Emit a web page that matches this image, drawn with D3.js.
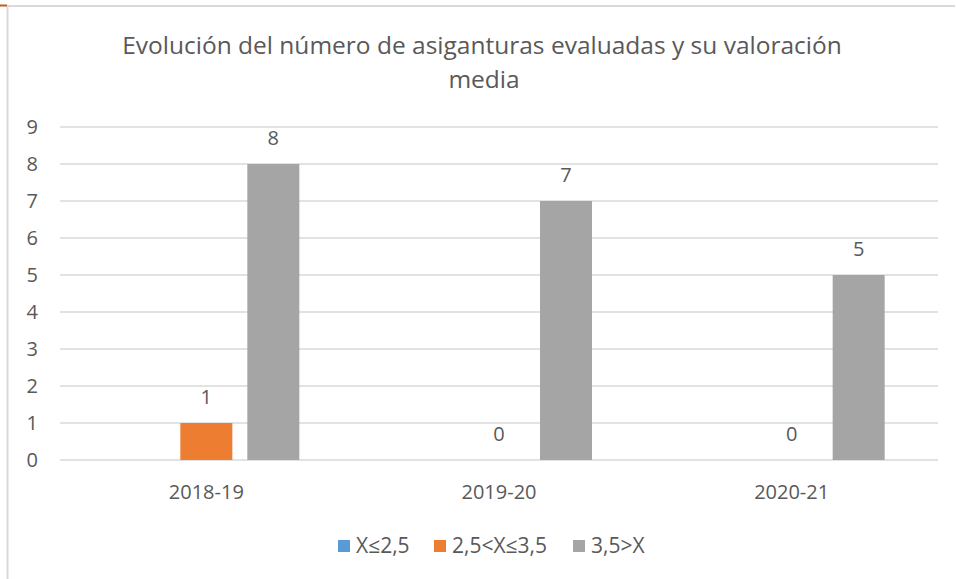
<!DOCTYPE html>
<html>
<head>
<meta charset="utf-8">
<script src="https://cdn.jsdelivr.net/npm/d3@7"></script>
<style>
  body { margin: 0; background: #fff; }
  text { font-family: "Open Sans", "Noto Sans", sans-serif; fill: #595959; }
</style>
</head>
<body>
<script>
var years = ["2018-19", "2019-20", "2020-21"];
var seriesNames = ["X≤2,5", "2,5<X≤3,5", "3,5>X"];
var seriesColors = ["#5b9bd5", "#ed7d31", "#a5a5a5"];
var low = [null, null, null];        // X≤2,5 (no labels shown)
var mid = [1, 0, 0];                 // 2,5<X≤3,5
var high = [8, 7, 5];                // 3,5>X
var yTicks = [0, 1, 2, 3, 4, 5, 6, 7, 8, 9];

var width = 956, height = 579;
var margin = { top: 127, right: 18, bottom: 119, left: 60 };

var svg = d3.select("body").append("svg")
  .attr("width", width)
  .attr("height", height);

// frame
svg.append("line").attr("x1", 7.5).attr("x2", 7.5).attr("y1", 6).attr("y2", height)
  .attr("stroke", "#d9d9d9").attr("stroke-width", 2);
svg.append("line").attr("x1", 7).attr("x2", 955).attr("y1", 6).attr("y2", 6)
  .attr("stroke", "#d9d9d9").attr("stroke-width", 2);
svg.append("line").attr("x1", 0).attr("x2", 7).attr("y1", 5.5).attr("y2", 5.5)
  .attr("stroke", "#c55a11").attr("stroke-width", 2);

// title
svg.append("text").attr("x", 482).attr("y", 54).attr("text-anchor", "middle")
  .style("font-size", "24.5px")
  .text("Evolución del número de asiganturas evaluadas y su valoración");
svg.append("text").attr("x", 484).attr("y", 88).attr("text-anchor", "middle")
  .style("font-size", "24.5px")
  .text("media");

var x = d3.scaleBand()
  .domain(years)
  .range([margin.left, width - margin.right]);

var y = d3.scaleLinear()
  .domain([0, 9])
  .range([height - margin.bottom, margin.top]);

// gridlines
svg.append("g").selectAll("line")
  .data(yTicks)
  .enter().append("line")
  .attr("x1", margin.left).attr("x2", width - margin.right)
  .attr("y1", function(d) { return y(d); })
  .attr("y2", function(d) { return y(d); })
  .attr("stroke", "#d9d9d9").attr("stroke-width", 1.5);

// y tick labels
svg.append("g").selectAll("text")
  .data(yTicks)
  .enter().append("text")
  .attr("x", 38).attr("y", function(d) { return y(d); })
  .attr("dy", "0.35em").attr("text-anchor", "end")
  .style("font-size", "20px")
  .text(function(d) { return d; });

// x labels
svg.append("g").selectAll("text")
  .data(years)
  .enter().append("text")
  .attr("x", function(d) { return x(d) + x.bandwidth() / 2; })
  .attr("y", 499)
  .attr("text-anchor", "middle")
  .style("font-size", "20px")
  .text(function(d) { return d; });

var series = [low, mid, high];
var barW = 52, gap = 15;
var inner = d3.scaleBand().domain([0, 1, 2]).range([0, barW * 3 + gap * 2]).paddingInner(gap / (barW + gap));

series.forEach(function(vals, si) {
  var g = svg.append("g");
  years.forEach(function(yr, i) {
    var v = vals[i];
    if (v === null) return;
    var cx = x(yr) + x.bandwidth() / 2 - (barW * 3 + gap * 2) / 2 + inner(si);
    if (v > 0) {
      g.append("rect")
        .attr("x", cx).attr("width", inner.bandwidth())
        .attr("y", y(v)).attr("height", y(0) - y(v))
        .attr("fill", seriesColors[si]);
    }
    g.append("text")
      .attr("x", cx + inner.bandwidth() / 2)
      .attr("y", y(v) - 19)
      .attr("text-anchor", "middle")
      .style("font-size", "20px")
      .text(v);
  });
});

// legend
var legendX = [338, 434, 573];
var legend = svg.append("g");
seriesNames.forEach(function(n, i) {
  legend.append("rect").attr("x", legendX[i]).attr("y", 540)
    .attr("width", 12).attr("height", 12).attr("fill", seriesColors[i]);
  legend.append("text").attr("x", legendX[i] + 18).attr("y", 546)
    .attr("dy", "0.35em").style("font-size", "21px").text(n);
});
</script>
</body>
</html>
